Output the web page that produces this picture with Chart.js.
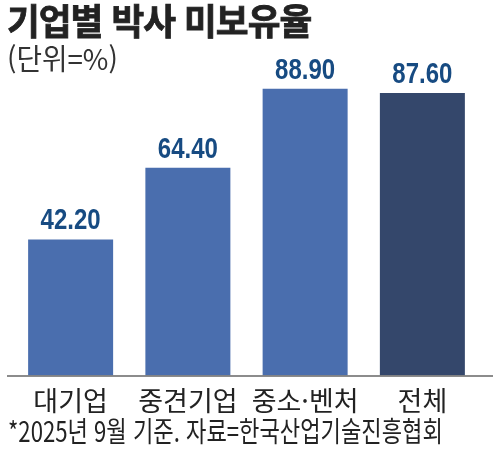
<!DOCTYPE html>
<html lang="ko">
<head>
<meta charset="UTF-8">
<title>기업별 박사 미보유율</title>
<script src="https://cdn.jsdelivr.net/npm/chart.js@4.4.0/dist/chart.umd.min.js"></script>
<style>
  body { margin: 0; background: #fff; }
  #wrap { position: relative; width: 500px; height: 454px; overflow: hidden; font-family: "Noto Sans CJK KR", sans-serif; color: #222; }
  #wrap canvas { position: absolute; left: 0; top: 0; }
  .title { position: absolute; left: 7px; top: -7px; font-size: 36px; font-weight: 700; letter-spacing: -1px; white-space: nowrap; transform-origin: 0 0; -webkit-text-stroke: 0.8px #222; }
  .unit { position: absolute; left: 7px; top: 36px; font-size: 29px; color: #333; white-space: nowrap; transform-origin: 0 0; }
  .note { position: absolute; left: 8px; top: 410px; font-size: 28px; color: #222; white-space: nowrap; transform-origin: 0 0; }
</style>
</head>
<body>
<div id="wrap">
  <canvas id="myChart" width="500" height="454"></canvas>
  <div class="title" id="title">기업별 박사 미보유율</div>
  <div class="unit" id="unit">(단위=%)</div>
  <div class="note" id="note">*2025년 9월 기준. 자료=한국산업기술진흥협회</div>
</div>

<script>
const categories = ['대기업', '중견기업', '중소·벤처', '전체'];
const values = [42.2, 64.4, 88.9, 87.6];
const valueLabels = ['42.20', '64.40', '88.90', '87.60'];
const barColors = ['#4a6eae', '#4a6eae', '#4a6eae', '#34476b'];

// squeeze text blocks to the widths they have in the print
function fitWidth(id, w) {
  const el = document.getElementById(id);
  el.style.transform = 'scaleX(' + (w / el.offsetWidth) + ')';
}
fitWidth('title', 304);
fitWidth('unit', 111);
fitWidth('note', 435);

// baseline runs a little past the bars on both sides
const baseLine = {
  id: 'baseLine',
  afterDatasetsDraw(chart) {
    const ctx = chart.ctx;
    const y = chart.chartArea.bottom + 0.5;
    ctx.save();
    ctx.strokeStyle = '#666';
    ctx.lineWidth = 1.5;
    ctx.beginPath();
    ctx.moveTo(7, y);
    ctx.lineTo(493, y);
    ctx.stroke();
    ctx.restore();
  }
};

// value on top of every bar, condensed like the print
const barValues = {
  id: 'barValues',
  afterDatasetsDraw(chart) {
    const ctx = chart.ctx;
    ctx.font = 'bold 30px "Liberation Sans", sans-serif';
    ctx.fillStyle = '#174b82';
    ctx.textAlign = 'center';
    ctx.textBaseline = 'alphabetic';
    chart.getDatasetMeta(0).data.forEach((bar, i) => {
      ctx.save();
      ctx.translate(bar.x, bar.y - 10);
      ctx.scale(0.8, 1);
      ctx.fillText(valueLabels[i], 0, 0);
      ctx.restore();
    });
  }
};

new Chart(document.getElementById('myChart'), {
  type: 'bar',
  data: {
    labels: categories,
    datasets: [{
      data: values,
      backgroundColor: barColors,
      borderWidth: 0,
      barPercentage: 1,
      categoryPercentage: 0.725
    }]
  },
  options: {
    responsive: false,
    animation: false,
    events: [],
    layout: { padding: { left: 12, right: 19, top: 53, bottom: 36 } },
    plugins: {
      legend: { display: false },
      tooltip: { enabled: false }
    },
    scales: {
      x: {
        grid: { display: false },
        border: { display: false },
        ticks: {
          color: '#222',
          padding: 1,
          maxRotation: 0,
          minRotation: 0,
          autoSkip: false,
          font: { family: '"Noto Sans CJK KR", sans-serif', size: 27 }
        }
      },
      y: {
        display: false,
        min: 0,
        max: 100
      }
    }
  },
  plugins: [baseLine, barValues]
});
</script>
</body>
</html>
